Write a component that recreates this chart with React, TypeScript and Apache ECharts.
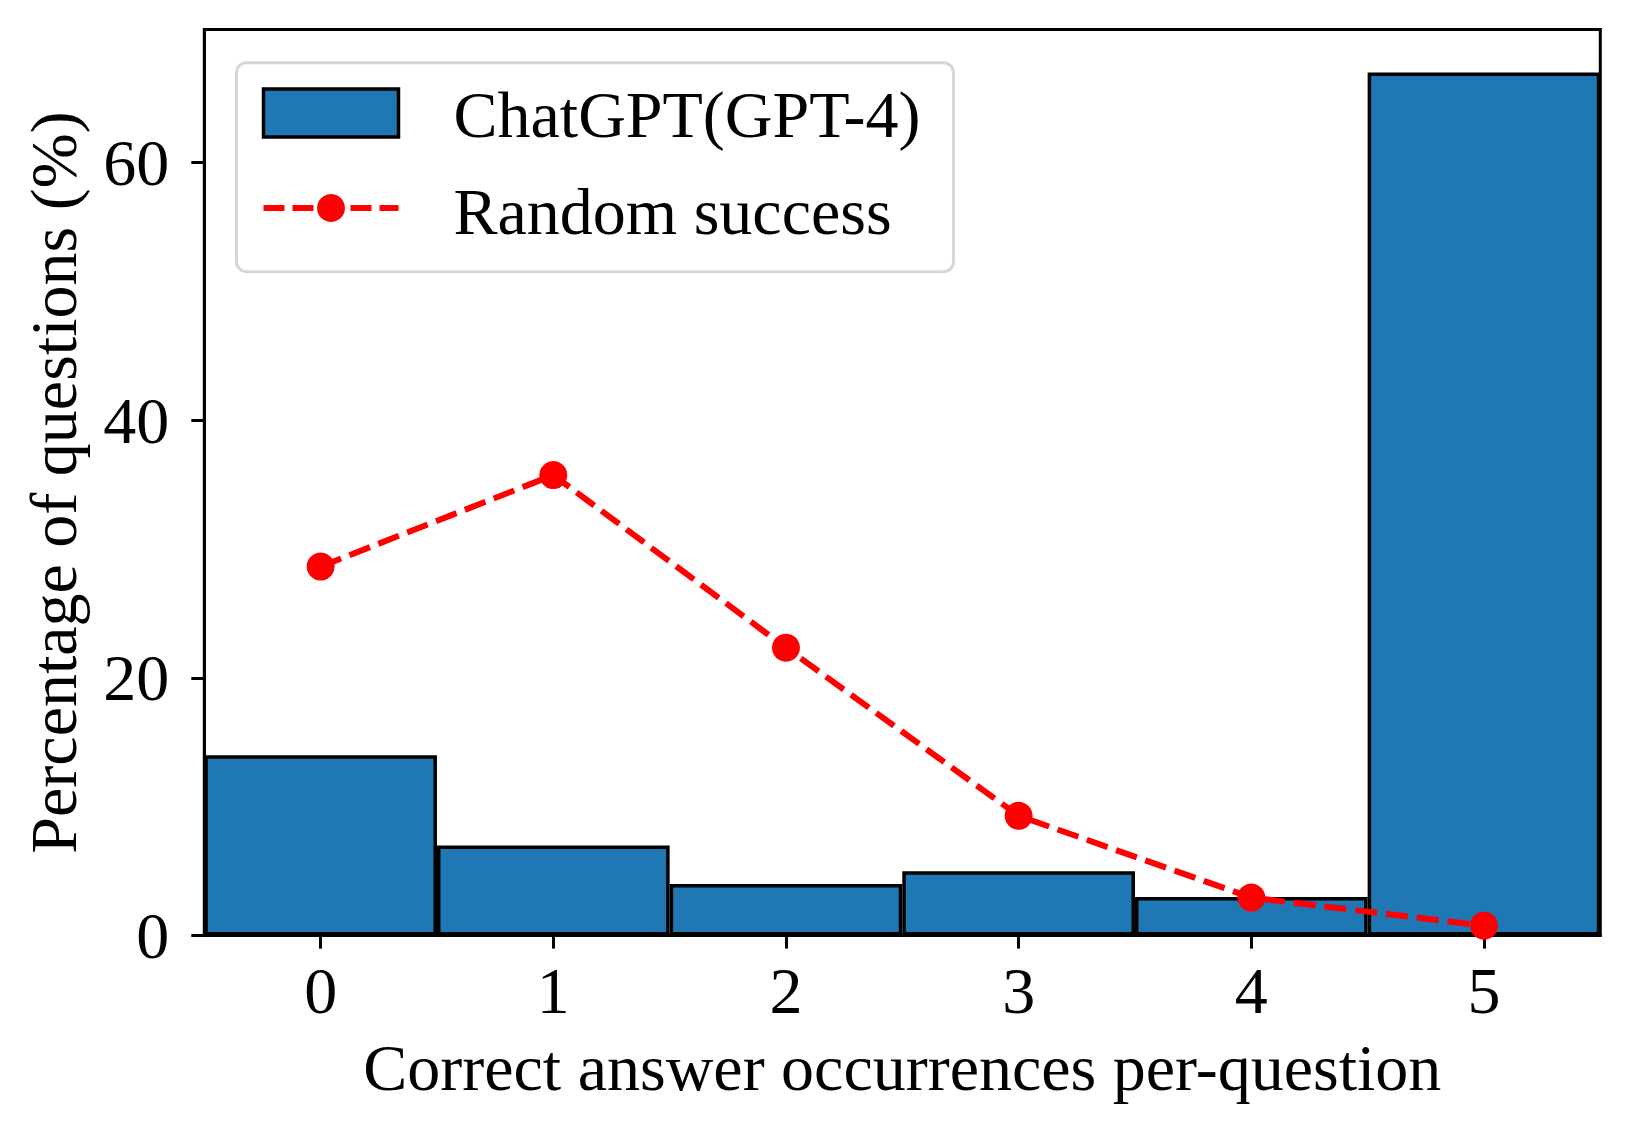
import React, { useEffect, useRef } from "react";
import * as echarts from "echarts";

const categories = ["0", "1", "2", "3", "4", "5"];
const chatgptValues = [14.0, 7.0, 4.0, 5.0, 3.0, 67.0];
const randomValues = [28.65, 35.75, 22.35, 9.3, 2.95, 0.77];
const yTicks = [0, 20, 40, 60];
const legendNames = ["ChatGPT(GPT-4)", "Random success"];

const FONT = "'Liberation Serif', 'Times New Roman', serif";
const BLUE = "#1f77b4";

export default function App() {
  const ref = useRef<HTMLDivElement>(null);
  useEffect(() => {
    if (!ref.current) return;
    const chart = echarts.init(ref.current, null, { renderer: "svg" });
    const option = {
      animation: false,
      backgroundColor: "#ffffff",
      grid: {
        left: 204.3,
        right: 27.7,
        top: 29.4,
        bottom: 197.4,
        show: true,
        borderColor: "#000",
        borderWidth: 3,
        backgroundColor: "transparent",
        containLabel: false,
      },
      xAxis: {
        type: "category",
        data: categories,
        boundaryGap: true,
        name: "Correct answer occurrences per-question",
        nameLocation: "middle",
        nameGap: 99,
        nameTextStyle: { fontSize: 66, fontFamily: FONT, color: "#000" },
        axisLine: { show: true, lineStyle: { color: "#000", width: 3 } },
        axisTick: { show: true, alignWithLabel: true, length: 13, lineStyle: { color: "#000", width: 3 } },
        axisLabel: { fontSize: 66, fontFamily: FONT, color: "#000", margin: 22 },
        splitLine: { show: false },
      },
      yAxis: {
        type: "value",
        min: 0,
        max: 70.35,
        interval: 20,
        name: "Percentage of questions (%)",
        nameLocation: "middle",
        nameGap: 118,
        nameTextStyle: { fontSize: 66, fontFamily: FONT, color: "#000" },
        axisLine: { show: true, lineStyle: { color: "#000", width: 3 } },
        axisTick: { show: true, length: 13, lineStyle: { color: "#000", width: 3 }, customValues: yTicks },
        axisLabel: { fontSize: 66, fontFamily: FONT, color: "#000", margin: 35, customValues: yTicks },
        splitLine: { show: false },
      },
      graphic: [
        {
          type: "group",
          z: 100,
          children: [
            {
              type: "rect",
              shape: { x: 236.5, y: 62.7, width: 717, height: 209, r: 10 },
              style: { fill: "rgba(255,255,255,0.8)", stroke: "#d6d6d6", lineWidth: 3 },
            },
            {
              type: "rect",
              shape: { x: 263.5, y: 89, width: 135, height: 48 },
              style: { fill: BLUE, stroke: "#000", lineWidth: 3.5 },
            },
            {
              type: "text",
              x: 453.5,
              y: 114.5,
              style: { text: legendNames[0], fontSize: 66, fontFamily: FONT, fill: "#000", verticalAlign: "middle", align: "left" },
            },
            {
              type: "line",
              shape: { x1: 263.5, y1: 208, x2: 398.5, y2: 208 },
              style: { stroke: "red", lineWidth: 6, lineDash: [21, 8] },
            },
            {
              type: "circle",
              shape: { cx: 331, cy: 208, r: 14 },
              style: { fill: "red" },
            },
            {
              type: "text",
              x: 453.5,
              y: 211,
              style: { text: legendNames[1], fontSize: 66, fontFamily: FONT, fill: "#000", verticalAlign: "middle", align: "left" },
            },
          ],
        },
      ],
      series: [
        {
          name: legendNames[0],
          type: "bar",
          data: chatgptValues,
          barWidth: "100%",
          barCategoryGap: "0%",
          itemStyle: { color: BLUE, borderColor: "#000", borderWidth: 3.5 },
          z: 2,
        },
        {
          name: legendNames[1],
          type: "line",
          data: randomValues,
          symbol: "circle",
          symbolSize: 28,
          itemStyle: { color: "red" },
          lineStyle: { color: "red", width: 6, type: [22, 9] },
          z: 3,
        },
      ],
    };
    chart.setOption(option);
    return () => chart.dispose();
  }, []);
  return (
    <div
      ref={ref}
      style={{ position: "fixed", left: 0, top: 0, width: 1628, height: 1133, background: "#fff" }}
    />
  );
}
